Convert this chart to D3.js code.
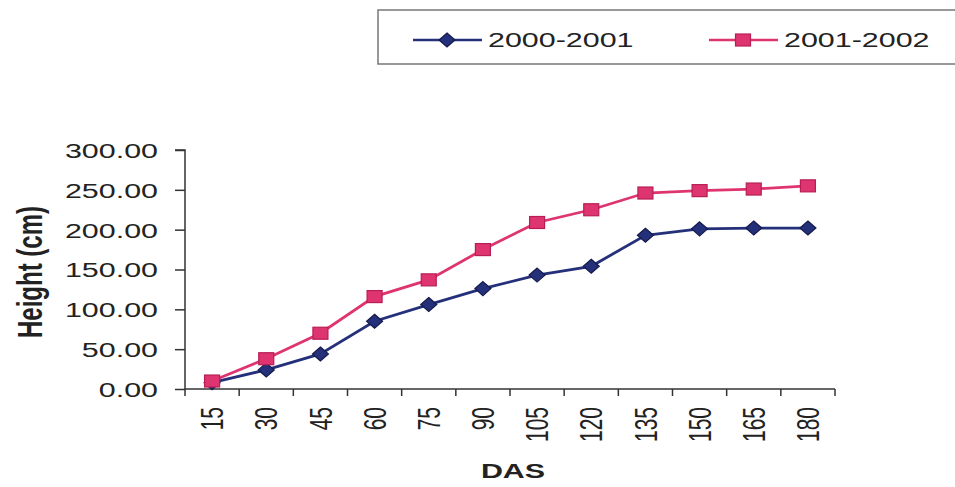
<!DOCTYPE html>
<html>
<head>
<meta charset="utf-8">
<script src="https://cdn.jsdelivr.net/npm/d3@7/dist/d3.min.js"></script>
<style>
  body { margin: 0; background: #fff; }
  svg { display: block; }
  text { font-family: "Liberation Sans", Arial, sans-serif; fill: #222; }
  .axis path, .axis line { stroke: #333; stroke-width: 1.5; }
</style>
</head>
<body>
<svg id="chart" width="955" height="487"></svg>
<script>
// data
const days = [15, 30, 45, 60, 75, 90, 105, 120, 135, 150, 165, 180];
const season2000 = [8, 24, 44, 85, 106, 126, 143, 154, 193, 201, 202, 202];
const season2001 = [10, 38, 70, 116, 137, 175, 209, 225, 246, 249, 251, 255];
const yTicks = [0, 50, 100, 150, 200, 250, 300];
const seriesNames = ["2000-2001", "2001-2002"];

// the scan is stretched sideways, so text is widened to match
const SX = 1.45;
const BLUE = "#25307a", PINK = "#de3470";

const svg = d3.select("#chart");

const x = d3.scalePoint().domain(days).range([185, 835]).padding(0.5);
const xBand = d3.scaleBand().domain(days).range([185, 835]);
const y = d3.scaleLinear().domain([0, 300]).range([389, 150]);

// y axis
let yAxis = d3.axisLeft(y)
    .tickValues(yTicks)
    .tickSize(10)
    .tickFormat(d3.format(".2f"));

svg.append("g")
    .attr("class", "axis axis-y")
    .attr("transform", "translate(185,0)")
    .call(yAxis)
  .call(g => g.select(".domain").attr("d", `M-10,${y(300)}H0V${y(0)}`))
  .selectAll(".tick text")
    .attr("x", null)
    .attr("dy", "0.35em")
    .attr("transform", `translate(-27,0) scale(${SX},1)`)
    .style("font-size", "21px");

// x axis - labels on categories, ticks between them
let xAxis = d3.axisBottom(x).tickSize(0);

let xg = svg.append("g")
    .attr("class", "axis axis-x")
    .attr("transform", `translate(0,${y(0)})`)
    .call(xAxis);

xg.select(".domain").attr("d", "M185,0H835");

xg.selectAll(".tick text")
    .attr("y", null)
    .attr("dy", "0.35em")
    .attr("text-anchor", "end")
    .attr("transform", `translate(0,18) scale(${SX},1) rotate(-90)`)
    .style("font-size", "21px");

xg.selectAll("line.boundary")
    .data(days.map(d => xBand(d)).concat([xBand.range()[1]]))
    .enter().append("line")
        .attr("class", "boundary")
        .attr("x1", d => d).attr("x2", d => d)
        .attr("y1", 0).attr("y2", 7);

// axis titles
svg.append("text")
    .attr("transform", `translate(${30},${272}) scale(${SX},1) rotate(-90)`)
    .attr("text-anchor", "middle")
    .attr("dy", "0.35em")
    .style("font-size", "24px")
    .style("font-weight", "bold")
    .text("Height (cm)");

svg.append("text")
    .attr("transform", `translate(${513},${471}) scale(${SX},1)`)
    .attr("text-anchor", "middle")
    .attr("dy", "0.35em")
    .style("font-size", "21px")
    .style("font-weight", "bold")
    .text("DAS");

// markers
function diamond(sel){
    sel.append("path")
        .attr("d", "M0,-7L8,0L0,7L-8,0Z")
        .attr("fill", BLUE)
        .attr("stroke", "#141a4a")
        .attr("stroke-width", 1.2);
}
function square(sel){
    sel.append("rect")
        .attr("x", -7.5).attr("y", -6)
        .attr("width", 15).attr("height", 12)
        .attr("fill", PINK)
        .attr("stroke", "#b81e55")
        .attr("stroke-width", 1.2);
}

const series = [
    {name: seriesNames[0], values: season2000, color: BLUE, marker: diamond},
    {name: seriesNames[1], values: season2001, color: PINK, marker: square}
];

let line = d3.line()
    .x((d, i) => x(days[i]))
    .y(d => y(d));

let plot = svg.append("g").attr("class", "plot");

series.forEach(s => {
    plot.append("path")
        .attr("d", line(s.values))
        .attr("fill", "none")
        .attr("stroke", s.color)
        .attr("stroke-width", 2.8);

    plot.selectAll(null)
        .data(s.values)
        .enter().append("g")
            .attr("transform", (d, i) => `translate(${x(days[i])},${y(d)})`)
            .each(function(){ s.marker(d3.select(this)); });
});

// legend - box runs off the right edge of the scan
let legend = svg.append("g").attr("class", "legend");
legend.append("rect")
    .attr("x", 378).attr("y", 10)
    .attr("width", 600).attr("height", 54)
    .attr("fill", "none")
    .attr("stroke", "#777")
    .attr("stroke-width", 1.5);

const legendX = [413, 709];
series.forEach((s, i) => {
    let g = legend.append("g").attr("transform", `translate(${legendX[i]},40)`);
    g.append("line")
        .attr("x1", 0).attr("x2", 69)
        .attr("stroke", s.color)
        .attr("stroke-width", 2.5);
    s.marker(g.append("g").attr("transform", "translate(34,0)"));
    g.append("text")
        .attr("transform", `translate(75,0) scale(${SX},1)`)
        .attr("dy", "0.35em")
        .style("font-size", "21px")
        .text(s.name);
});
</script>
</body>
</html>
